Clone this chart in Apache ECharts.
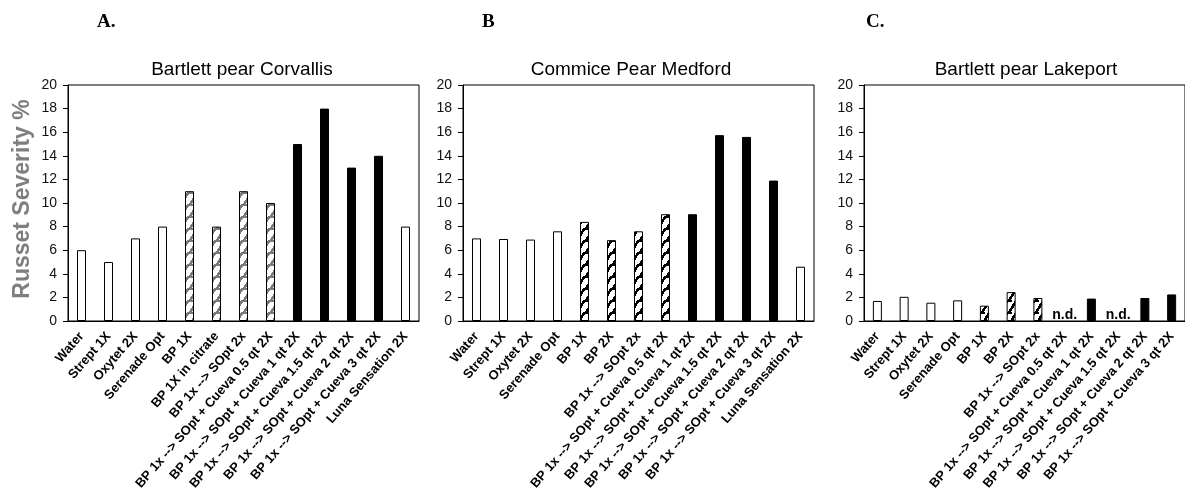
<!DOCTYPE html>
<html>
<head>
<meta charset="utf-8">
<script src="https://cdn.jsdelivr.net/npm/echarts@6/dist/echarts.min.js"></script>
<style>
html,body{margin:0;padding:0;background:#fff;}
#chart{width:1185px;height:498px;}
</style>
</head>
<body>
<div id="chart"></div>
<script>
// ---- data ----
const categoriesA = ['Water','Strept 1X','Oxytet 2X','Serenade Opt','BP 1X','BP 1X in citrate','BP 1x --> SOpt 2x',
  'BP 1x --> SOpt + Cueva 0.5 qt 2X','BP 1x --> SOpt + Cueva 1 qt 2X','BP 1x --> SOpt + Cueva 1.5 qt 2X',
  'BP 1x --> SOpt + Cueva 2 qt 2X','BP 1x --> SOpt + Cueva 3 qt 2X','Luna Sensation 2X'];
const valuesA = [6, 5, 7, 8, 11, 8, 11, 10, 15, 18, 13, 14, 8];
const groupsA = ['control','control','control','control','BP','BP','BP','BP','BP+Cueva','BP+Cueva','BP+Cueva','BP+Cueva','control'];

const categoriesB = ['Water','Strept 1X','Oxytet 2X','Serenade Opt','BP 1X','BP 2X','BP 1x --> SOpt 2x',
  'BP 1x --> SOpt + Cueva 0.5 qt 2X','BP 1x --> SOpt + Cueva 1 qt 2X','BP 1x --> SOpt + Cueva 1.5 qt 2X',
  'BP 1x --> SOpt + Cueva 2 qt 2X','BP 1x --> SOpt + Cueva 3 qt 2X','Luna Sensation 2X'];
const valuesB = [7.0, 6.95, 6.9, 7.6, 8.4, 6.85, 7.6, 9.05, 9.05, 15.75, 15.6, 11.9, 4.6];
const groupsB = ['control','control','control','control','BP','BP','BP','BP','BP+Cueva','BP+Cueva','BP+Cueva','BP+Cueva','control'];

const categoriesC = ['Water','Strept 1X','Oxytet 2X','Serenade Opt','BP 1X','BP 2X','BP 1x --> SOpt 2x',
  'BP 1x --> SOpt + Cueva 0.5 qt 2X','BP 1x --> SOpt + Cueva 1 qt 2X','BP 1x --> SOpt + Cueva 1.5 qt 2X',
  'BP 1x --> SOpt + Cueva 2 qt 2X','BP 1x --> SOpt + Cueva 3 qt 2X'];
const valuesC = [1.7, 2.05, 1.55, 1.75, 1.3, 2.45, 1.95, null, 1.9, null, 1.95, 2.25];
const groupsC = ['control','control','control','control','BP','BP','BP','BP','BP+Cueva','BP+Cueva','BP+Cueva','BP+Cueva'];

const yTicks = [0, 20, 2]; // min, max, interval
const titles = ['Bartlett pear Corvallis', 'Commice Pear Medford', 'Bartlett pear Lakeport'];
const panelLetters = ['A.', 'B', 'C.'];
const yAxisTitle = 'Russet Severity %';
const ndText = 'n.d.';

// ---- patterns ----
function makePattern(color) {
  const c = document.createElement('canvas');
  c.width = 9; c.height = 12;
  const ctx = c.getContext('2d');
  ctx.fillStyle = '#fff';
  ctx.fillRect(0, 0, 9, 12);
  ctx.fillStyle = color;
  for (let y = 0; y < 12; y++) {
    const x0 = Math.round((11 - y) * 7 / 11);
    ctx.fillRect(x0, y, 3, 1);
  }
  ctx.fillRect(0, 0, 4, 2);
  return c;
}
const patGrey = makePattern('#7a7a7a');
const patBlack = makePattern('#000');

function styleFor(group, pattern) {
  if (group === 'control') return { color: '#fff', borderColor: '#000', borderWidth: 1 };
  if (group === 'BP') return { color: { image: pattern, repeat: 'repeat' }, borderColor: '#000', borderWidth: 1 };
  return { color: '#000', borderColor: '#000', borderWidth: 1 };
}

function barData(values, groups, pattern) {
  return values.map((v, i) => ({ value: v, itemStyle: styleFor(groups[i], pattern) }));
}

const font = 'Liberation Sans';
const grids = [
  { left: 68, top: 85, width: 351, height: 236 },
  { left: 463, top: 85, width: 351, height: 236 },
  { left: 864, top: 85, width: 324, height: 236 }
];
const cats = [categoriesA, categoriesB, categoriesC];

const xAxes = cats.map((c, i) => ({
  type: 'category', gridIndex: i, data: c,
  axisLine: { lineStyle: { color: '#000', width: 1 } },
  axisTick: { show: false },
  axisLabel: { rotate: 49, interval: 0, margin: 13, color: '#000', fontFamily: font, fontWeight: 'bold', fontSize: 13 }
}));
const yAxes = cats.map((c, i) => ({
  type: 'value', gridIndex: i, min: yTicks[0], max: yTicks[1], interval: yTicks[2],
  splitLine: { show: false },
  axisLine: { show: true, lineStyle: { color: '#000', width: 1 } },
  axisTick: { show: true, length: 5, lineStyle: { color: '#000' } },
  axisLabel: { margin: 11, color: '#111', fontFamily: font, fontSize: 14 }
}));

const ndData = [];
valuesC.forEach((v, i) => { if (v === null) ndData.push([categoriesC[i], 0]); });

const option = {
  animation: false,
  backgroundColor: '#fff',
  grid: grids.map(g => Object.assign({ show: true, borderColor: '#000', borderWidth: 1, backgroundColor: 'transparent' }, g)),
  xAxis: xAxes,
  yAxis: yAxes,
  series: [
    { type: 'bar', xAxisIndex: 0, yAxisIndex: 0, barWidth: 9, data: barData(valuesA, groupsA, patGrey) },
    { type: 'bar', xAxisIndex: 1, yAxisIndex: 1, barWidth: 9, data: barData(valuesB, groupsB, patBlack) },
    { type: 'bar', xAxisIndex: 2, yAxisIndex: 2, barWidth: 9, data: barData(valuesC, groupsC, patBlack) },
    { type: 'scatter', xAxisIndex: 2, yAxisIndex: 2, symbolSize: 0, itemStyle: { opacity: 1 }, data: ndData,
      label: { show: true, position: 'top', distance: -1, formatter: ndText, color: '#000', opacity: 1, fontFamily: font, fontWeight: 'bold', fontSize: 14 } }
  ],
  graphic: [
    { type: 'text', x: 242, y: 70, style: { text: titles[0], font: '19px "' + font + '"', fill: '#000', align: 'center', verticalAlign: 'middle' } },
    { type: 'text', x: 631, y: 70, style: { text: titles[1], font: '19px "' + font + '"', fill: '#000', align: 'center', verticalAlign: 'middle' } },
    { type: 'text', x: 1026, y: 70, style: { text: titles[2], font: '19px "' + font + '"', fill: '#000', align: 'center', verticalAlign: 'middle' } },
    { type: 'text', x: 97, y: 22, style: { text: panelLetters[0], font: 'bold 19px "Liberation Serif"', fill: '#000', align: 'left', verticalAlign: 'middle' } },
    { type: 'text', x: 482, y: 22, style: { text: panelLetters[1], font: 'bold 19px "Liberation Serif"', fill: '#000', align: 'left', verticalAlign: 'middle' } },
    { type: 'text', x: 866, y: 22, style: { text: panelLetters[2], font: 'bold 19px "Liberation Serif"', fill: '#000', align: 'left', verticalAlign: 'middle' } },
    { type: 'text', x: 23, y: 199, rotation: Math.PI / 2, style: { text: yAxisTitle, font: 'bold 23px "' + font + '"', fill: '#7f7f7f', align: 'center', verticalAlign: 'middle' } }
  ]
};

const chart = echarts.init(document.getElementById('chart'), null, { renderer: 'canvas' });
chart.setOption(option);
</script>
</body>
</html>
